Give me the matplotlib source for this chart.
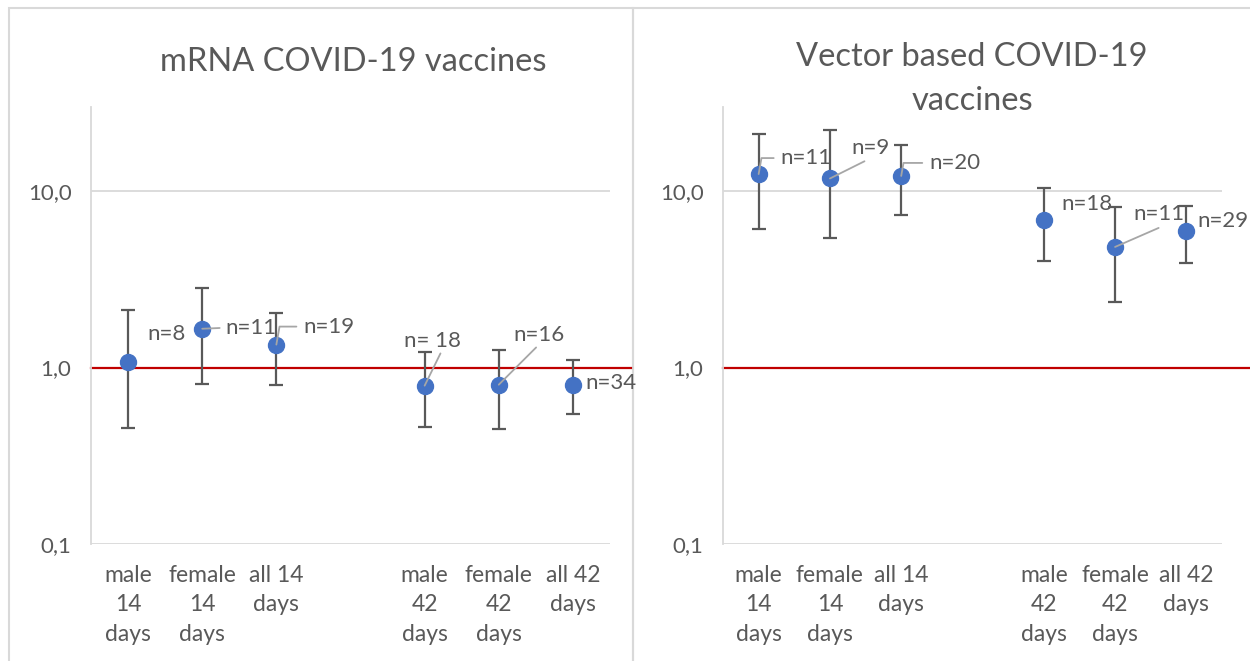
import numpy as np
import matplotlib
matplotlib.use('Agg')
import matplotlib.pyplot as plt
from matplotlib.patches import Rectangle

plt.rcParams['font.family'] = ['Lato', 'DejaVu Sans']

# categories (empty slot separates the 14 and 42 day groups)
categories = ['male\n14\ndays', 'female\n14\ndays', 'all 14\ndays', '',
              'male\n42\ndays', 'female\n42\ndays', 'all 42\ndays']

# mRNA vaccines
mrna_mean = [1.07, 1.66, 1.35, np.nan, 0.79, 0.80, 0.80]
mrna_low = [0.456, 0.81, 0.80, np.nan, 0.462, 0.45, 0.548]
mrna_high = [2.11, 2.81, 2.05, np.nan, 1.22, 1.25, 1.10]
mrna_n = ['n=8', 'n=11', 'n=19', '', 'n= 18', 'n=16', 'n=34']

# vector based vaccines
vec_mean = [12.5, 11.8, 12.2, np.nan, 6.84, 4.83, 5.93]
vec_low = [6.14, 5.43, 7.37, np.nan, 4.0, 2.36, 3.92]
vec_high = [21.2, 22.1, 18.2, np.nan, 10.4, 8.11, 8.25]
vec_n = ['n=11', 'n=9', 'n=20', '', 'n=18', 'n=11', 'n=29']

TXT = '#595959'
BLUE = '#4472C4'
GRID = '#D9D9D9'
LEADER = '#A6A6A6'

# label offsets in pixels (dx, dy) and leader line settings
mrna_off = [(19, 28, None), (23, 1, 'h'), (27, 18, 'bend'), None,
            (-21, 45, (0.67, 0)), (15, 50, (0.49, 0)), (12, 2, None)]
vec_off = [(22, 16, 'bend'), (21, 30, (0.5, 0)), (28, 13, 'bend'), None,
           (18, 16, None), (18, 33, (0.5, -0.2)), (11, 10, None)]


def draw_panel(ax, mean, low, high, labels, offsets, red_extend):
    x = np.arange(len(categories))
    mean = np.array(mean)
    yerr = [mean - np.array(low), np.array(high) - mean]
    ax.set_facecolor('none')
    ax.set_yscale('log')
    ax.set_ylim(0.1, 30)
    ax.set_xlim(-0.5, len(categories) - 0.5)
    for v in (0.1, 10):
        ax.axhline(v, color=GRID, lw=1.3, zorder=0)
    ax.axhline(1, xmin=0, xmax=red_extend, color='#C00000', lw=1.6,
               zorder=1, clip_on=False)
    ax.errorbar(x, mean, yerr=yerr, fmt='o', color=BLUE, ms=11.5,
                ecolor=TXT, elinewidth=1.6, capsize=5, capthick=1.6,
                zorder=3)
    for i, lab in enumerate(labels):
        if not lab:
            continue
        dx, dy, lead = offsets[i]
        kw = {}
        if lead == 'h':
            kw = dict(arrowprops=dict(arrowstyle='-', color=LEADER, lw=1.3,
                                      shrinkA=2, shrinkB=0,
                                      relpos=(0, 0.5)))
        elif lead == 'bend':
            kw = dict(arrowprops=dict(arrowstyle='-', color=LEADER, lw=1.3,
                                      shrinkA=3, shrinkB=0, relpos=(0, 0.5),
                                      connectionstyle='angle,angleA=180,angleB=80,rad=0'))
        elif lead is not None:
            kw = dict(arrowprops=dict(arrowstyle='-', color=LEADER, lw=1.3,
                                      shrinkA=0, shrinkB=0, relpos=lead))
        ax.annotate(lab, (x[i], mean[i]), xytext=(dx, dy),
                    textcoords='offset pixels', ha='left', va='center',
                    fontsize=16, color=TXT, zorder=4, **kw)
    ax.set_yticks([0.1, 1, 10])
    ax.set_yticklabels(['0,1', '1,0', '10,0'])
    ax.minorticks_off()
    ax.set_xticks([i for i in x if categories[i]])
    ax.set_xticklabels([c for c in categories if c], linespacing=1.5)
    ax.tick_params(axis='y', length=0, pad=14, labelsize=16, labelcolor=TXT)
    ax.tick_params(axis='x', length=0, pad=15, labelsize=16.5, labelcolor=TXT)
    for s in ('top', 'right', 'bottom'):
        ax.spines[s].set_visible(False)
    ax.spines['left'].set_color(GRID)
    ax.spines['left'].set_linewidth(1.3)


fig = plt.figure(figsize=(12.5, 6.61), dpi=100)
W, H = 1250, 661

# chart frames
fig.patches.append(Rectangle((9 / W, -0.01), (633 - 9) / W, 1.01 - 8 / H,
                             transform=fig.transFigure, fill=False,
                             ec=GRID, lw=1.5, zorder=-1))
fig.patches.append(Rectangle((633 / W, -0.01), 0.5, 1.01 - 8 / H,
                             transform=fig.transFigure, fill=False,
                             ec=GRID, lw=1.5, zorder=-1))

ax1 = fig.add_axes([91 / W, 1 - 544 / H, (610 - 91) / W, (544 - 107) / H])
ax2 = fig.add_axes([723 / W, 1 - 544 / H, (1222 - 723) / W, (544 - 107) / H])

draw_panel(ax1, mrna_mean, mrna_low, mrna_high, mrna_n, mrna_off, 1.04)
draw_panel(ax2, vec_mean, vec_low, vec_high, vec_n, vec_off, 1.06)

fig.text(353 / W, 1 - 62 / H, 'mRNA COVID-19 vaccines', ha='center',
         va='center', fontsize=23.5, color=TXT)
fig.text(972 / W, 1 - 79 / H, 'Vector based COVID-19\nvaccines',
         ha='center', va='center', fontsize=23.5, color=TXT, linespacing=1.6)

fig.savefig('out.png', dpi=100)
